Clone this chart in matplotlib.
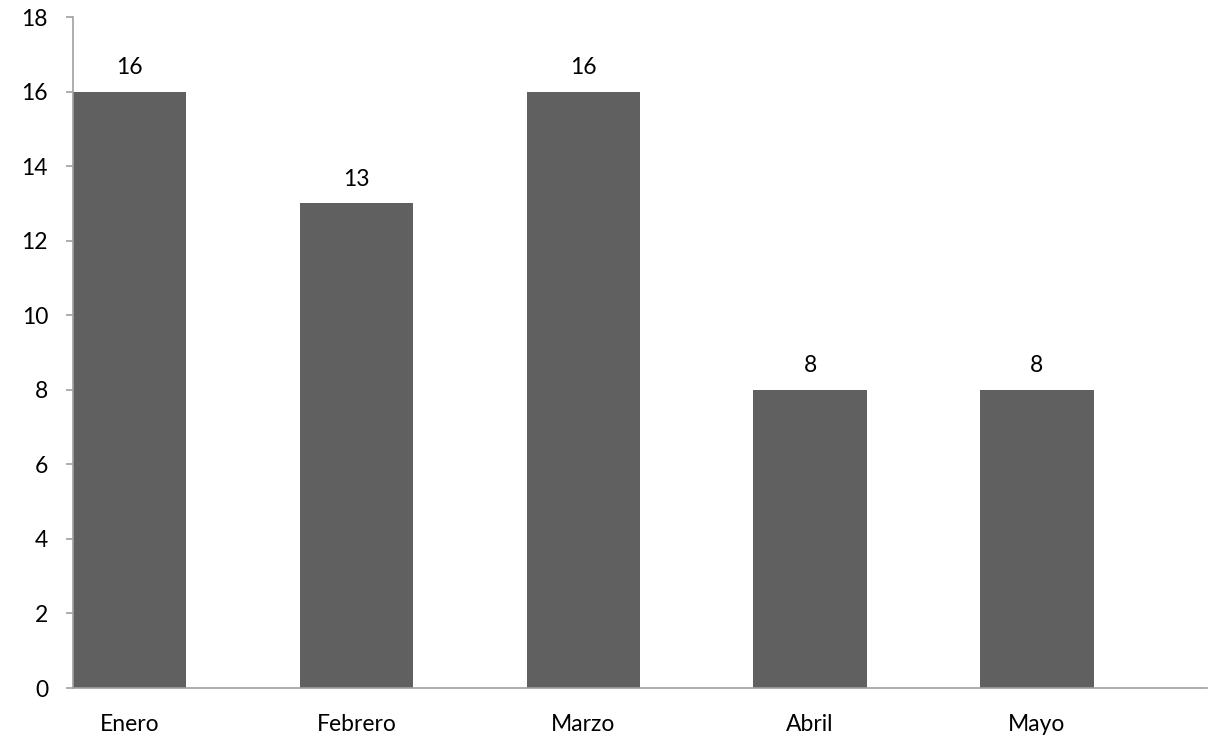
import matplotlib
matplotlib.use("Agg")
import matplotlib.pyplot as plt

# data
meses = ["Enero", "Febrero", "Marzo", "Abril", "Mayo"]
valores = [16, 13, 16, 8, 8]
yticks = [0, 2, 4, 6, 8, 10, 12, 14, 16, 18]

plt.rcParams['font.family'] = ['Lato', 'DejaVu Sans']

fig = plt.figure(figsize=(12.11, 7.36), dpi=100, facecolor='white')
ax = fig.add_axes([0.0603, 0.0652, 0.9364, 0.9117])

x = list(range(len(meses)))
bars = ax.bar(x, valores, width=0.5, color='#606060', zorder=2)

for xi, v in zip(x, valores):
    ax.annotate(str(v), (xi, v), xytext=(0, 10), textcoords='offset points',
                ha='center', va='bottom', fontsize=16.5, color='black')

ax.set_xlim(-0.25, 4.75)
ax.set_ylim(0, 18)
ax.set_yticks(yticks)
ax.set_xticks(x)
ax.set_xticklabels(meses)

for s in ['top', 'right']:
    ax.spines[s].set_visible(False)
ax.spines['left'].set_color('#a0a0a0')
ax.spines['bottom'].set_color('#a0a0a0')
ax.spines['left'].set_linewidth(1.2)
ax.spines['bottom'].set_linewidth(1.2)

ax.tick_params(axis='y', length=5, width=1.2, color='#a0a0a0', pad=13, labelsize=16.5)
ax.tick_params(axis='x', length=0, pad=19, labelsize=16.5)

fig.savefig("out.png", dpi=100, facecolor='white')
